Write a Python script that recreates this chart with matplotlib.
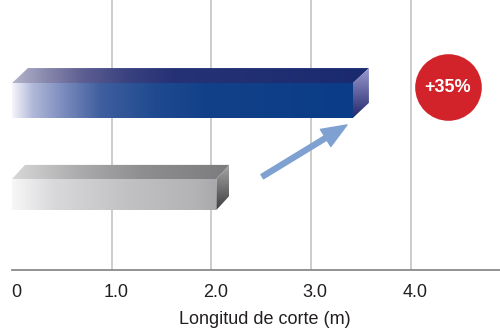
import numpy as np
import matplotlib
matplotlib.use("Agg")
from matplotlib import pyplot as plt
from matplotlib.colors import LinearSegmentedColormap
from matplotlib.patches import Polygon
from matplotlib.transforms import ScaledTranslation

# data
bar_names = ["standard", "new"]
bar_values = [2.05, 3.42]
tick_values = [0, 1, 2, 3, 4]
tick_labels = ["0", "1.0", "2.0", "3.0", "4.0"]
gain_label = "+35%"
x_label = "Longitud de corte (m)"

# look of each bar: front / top / side gradient stops (fraction of the bar length)
bar_style = {
    "standard": dict(
        height=0.33, depth=(0.13, 0.15),
        front=[(0, "#f7f7f8"), (0.2, "#d9d9db"), (0.55, "#c2c2c4"), (0.9, "#b3b3b5"), (1.0, "#a9a9ab")],
        top=[(0, "#d8d8d8"), (0.3, "#acacae"), (0.6, "#8e8e90"), (1.0, "#7c7c7e")],
        side=[(0, "#a8a8a8"), (1.0, "#3e3e40")],
    ),
    "new": dict(
        height=0.37, depth=(0.16, 0.16),
        front=[(0, "#f4f4fa"), (0.06, "#b0b8d8"), (0.14, "#8090c0"), (0.26, "#3f5e9e"),
               (0.42, "#1f4a90"), (0.56, "#134189"), (1.0, "#0b3c87")],
        top=[(0, "#b4b4cc"), (0.1, "#8686ac"), (0.2, "#5c5e92"), (0.32, "#3a4280"),
             (0.45, "#263276"), (1.0, "#1a2a6e")],
        side=[(0, "#9a9ad0"), (1.0, "#24286a")],
    ),
}


def gradient_face(ax, verts, stops, horizontal=True):
    cmap = LinearSegmentedColormap.from_list("g", stops)
    xs = [v[0] for v in verts]
    ys = [v[1] for v in verts]
    grad = np.linspace(0, 1, 256)
    img = grad.reshape(1, -1) if horizontal else grad.reshape(-1, 1)
    poly = Polygon(verts, closed=True, facecolor="none", edgecolor="none")
    ax.add_patch(poly)
    im = ax.imshow(img, cmap=cmap, aspect="auto", interpolation="bilinear",
                   extent=(min(xs), max(xs), min(ys), max(ys)),
                   origin="upper" if not horizontal else "lower", zorder=3)
    im.set_clip_path(poly)


fig = plt.figure(figsize=(5.0, 3.29), dpi=100)
ax = fig.add_axes([12 / 500, 59 / 329, 488 / 500, 270 / 329])

for i, (name, val) in enumerate(zip(bar_names, bar_values)):
    st = bar_style[name]
    h = st["height"]
    dx, dy = st["depth"]
    lo, hi = i - h / 2, i + h / 2
    gradient_face(ax, [(0, lo), (val, lo), (val, hi), (0, hi)], st["front"])
    gradient_face(ax, [(0, hi), (dx, hi + dy), (val + dx, hi + dy), (val, hi)], st["top"])
    gradient_face(ax, [(val, lo), (val, hi), (val + dx, hi + dy), (val + dx, lo + dy)],
                  st["side"], horizontal=False)

# arrow from the short bar to the long one
ax.annotate("", xy=(3.36, 0.74), xytext=(2.51, 0.19),
            arrowprops=dict(arrowstyle="simple,head_width=1.2,head_length=1.5,tail_width=0.3",
                            mutation_scale=12, color="#7fa1d1", shrinkA=0, shrinkB=0),
            zorder=4)

# red badge
ax.scatter([4.37], [1.14], s=2300, color="#d2232a", zorder=5, linewidths=0)
ax.text(4.37, 1.14, gain_label, color="white", fontsize=13, fontweight="bold",
        ha="center", va="center", family="Liberation Sans", zorder=6)

ax.set_xlim(0, 4.895)
ax.set_ylim(-0.803, 2.069)
ax.set_xticks(tick_values)
ax.set_xticklabels(tick_labels, family="Liberation Sans", fontsize=13, color="#231f20")
ax.set_yticks([])
ax.tick_params(axis="x", length=0, pad=10)
ax.grid(axis="x", color="#c8c8c8", linewidth=1.3, zorder=0)
ax.set_axisbelow(True)
ax.xaxis.get_gridlines()[0].set_visible(False)
for s in ["top", "right", "left"]:
    ax.spines[s].set_visible(False)
ax.spines["bottom"].set_color("#8a8a8a")
ax.spines["bottom"].set_linewidth(1.3)
ax.set_xlabel(x_label, family="Liberation Sans", fontsize=13, color="#231f20")
ax.xaxis.set_label_coords(0.518, -0.152)

shift = ScaledTranslation(4 / 100, 0, fig.dpi_scale_trans)
for lab in ax.get_xticklabels():
    lab.set_transform(lab.get_transform() + shift)

fig.savefig("out.png", dpi=100)
